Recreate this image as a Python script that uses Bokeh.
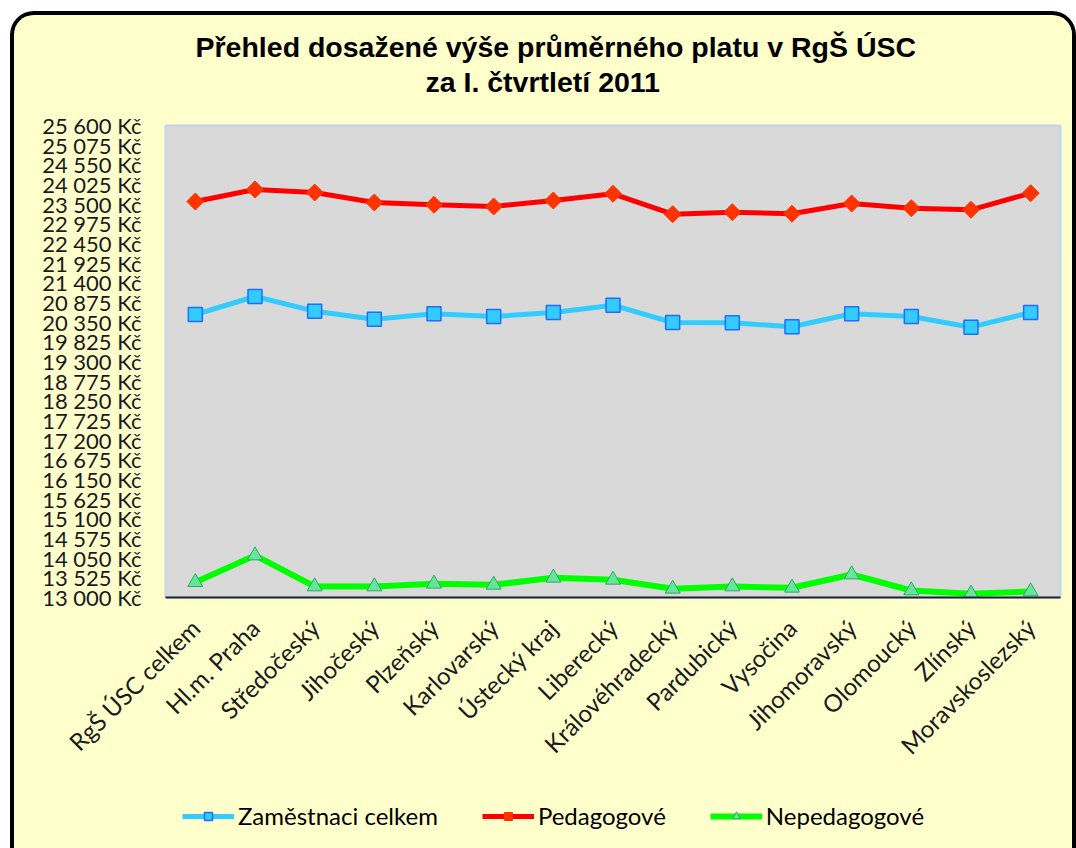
import math
from bokeh.plotting import figure
from bokeh.layouts import column
from bokeh.models import (Legend, LegendItem, FixedTicker, Title,
                          Range1d, ColumnDataSource)
from bokeh.embed import file_html
from bokeh.resources import INLINE

# ---------------- data ----------------
regions = ["RgŠ ÚSC celkem", "Hl.m. Praha", "Středočeský", "Jihočeský", "Plzeňský",
           "Karlovarský", "Ústecký kraj", "Liberecký", "Královéhradecký", "Pardubický",
           "Vysočina", "Jihomoravský", "Olomoucký", "Zlínský", "Moravskoslezský"]
zamestnanci = [20555, 21035, 20643, 20429, 20574, 20501, 20608, 20803,
               20341, 20333, 20226, 20574, 20501, 20216, 20608]
pedagogove = [23571, 23892, 23812, 23545, 23483, 23438, 23598, 23777,
              23232, 23286, 23243, 23518, 23392, 23350, 23793]
nepedagogove = [13408, 14121, 13294, 13294, 13366, 13339, 13526, 13472,
                13232, 13294, 13259, 13614, 13187, 13099, 13160]
series_names = ["Zaměstnaci celkem", "Pedagogové", "Nepedagogové"]
y_ticks = [13000, 13525, 14050, 14575, 15100, 15625, 16150, 16675, 17200,
           17725, 18250, 18775, 19300, 19825, 20350, 20875, 21400, 21925,
           22450, 22975, 23500, 24025, 24550, 25075, 25600]
y_tick_labels = ["13 000 Kč", "13 525 Kč", "14 050 Kč", "14 575 Kč", "15 100 Kč",
                 "15 625 Kč", "16 150 Kč", "16 675 Kč", "17 200 Kč", "17 725 Kč",
                 "18 250 Kč", "18 775 Kč", "19 300 Kč", "19 825 Kč", "20 350 Kč",
                 "20 875 Kč", "21 400 Kč", "21 925 Kč", "22 450 Kč", "22 975 Kč",
                 "23 500 Kč", "24 025 Kč", "24 550 Kč", "25 075 Kč", "25 600 Kč"]
title_line1 = "Přehled dosažené výše průměrného platu v RgŠ ÚSC"
title_line2 = "za I. čtvrtletí 2011"

BG = "#FFFFCC"
FW, FH = 895, 472
ML, MR, MT, MB = 151, 12, 110, 187
CW = ML + FW + MR
LEG_H = 64

colors_line = ["#33CCFF", "#FF0000", "#00FF00"]

src = ColumnDataSource(dict(x=regions, z=zamestnanci, p=pedagogove, n=nepedagogove))

p = figure(x_range=regions, y_range=Range1d(y_ticks[0], y_ticks[-1]),
           frame_width=FW, frame_height=FH, output_backend="svg", toolbar_location=None,
           min_border_left=ML, min_border_right=MR, min_border_top=MT,
           min_border_bottom=MB)
p.background_fill_color = "#D9D9D9"
p.border_fill_color = BG
p.outline_line_color = "#BDD5EE"
p.outline_line_width = 2
p.xgrid.grid_line_color = None
p.ygrid.grid_line_color = None

# titles: p.title is outermost; the first item added to "above" sits next to the frame
p.title.text = title_line1
p.title.align = "left"
p.title.offset = 30
p.title.text_font = "Liberation Sans"
p.title.text_font_size = "28.5px"
p.title.text_font_style = "bold"
p.title.text_color = "#000000"
p.title.standoff = 2
gap = Title(text=" ", text_font_size="1px", standoff=25)
p.add_layout(gap, "above")
t2 = Title(text=title_line2, align="left", offset=260, text_font="Liberation Sans",
           text_font_size="28.5px", text_font_style="bold", text_color="#000000",
           standoff=0)
p.add_layout(t2, "above")

# axes
yax = p.yaxis[0]
yax.ticker = FixedTicker(ticks=y_ticks)
yax.major_label_overrides = {t: l for t, l in zip(y_ticks, y_tick_labels)}
yax.axis_line_color = None
yax.major_tick_line_color = None
yax.minor_tick_line_color = None
yax.major_tick_out = 0
yax.major_tick_in = 0
yax.major_label_standoff = 24
yax.major_label_text_font = "Lato"
yax.major_label_text_font_size = "22px"
yax.major_label_text_color = "#1a1a1a"

xax = p.xaxis[0]
xax.axis_line_color = "#1B2436"
xax.axis_line_width = 2
xax.major_tick_line_color = None
xax.minor_tick_line_color = None
xax.major_tick_out = 0
xax.major_tick_in = 0
xax.major_label_orientation = math.pi / 4
xax.major_label_standoff = 26
xax.major_label_text_font = "Lato"
xax.major_label_text_font_size = "24px"
xax.major_label_text_color = "#1a1a1a"

# series
lz = p.line("x", "z", source=src, line_color=colors_line[0], line_width=5)
sz = p.scatter("x", "z", source=src, marker="square", size=14,
               fill_color="#33CCFF", line_color="#1E6EFF", line_width=1.5)
lp = p.line("x", "p", source=src, line_color=colors_line[1], line_width=5)
sp = p.scatter("x", "p", source=src, marker="square", angle=math.pi / 4, size=12,
               fill_color="#FF3300", line_color="#FF3300", line_width=1)
ln = p.line("x", "n", source=src, line_color=colors_line[2], line_width=6)
sn = p.scatter("x", "n", source=src, marker="triangle", size=15,
               fill_color="#66E69A", line_color="#2FA865", line_width=1)

# legend strip: a small figure under the chart whose (out of view) series feed the legend
q = figure(x_range=p.x_range, y_range=Range1d(0, 1), width=CW, height=LEG_H,
           output_backend="svg", toolbar_location=None,
           x_axis_type=None, y_axis_type=None,
           min_border_left=ML, min_border_right=MR, min_border_top=0,
           min_border_bottom=0)
q.background_fill_color = BG
q.border_fill_color = BG
q.outline_line_color = None
q.xgrid.grid_line_color = None
q.ygrid.grid_line_color = None
qlz = q.line("x", "z", source=src, line_color=colors_line[0], line_width=5)
qsz = q.scatter("x", "z", source=src, marker="square", size=14,
                fill_color="#33CCFF", line_color="#1E6EFF", line_width=1.5)
qlp = q.line("x", "p", source=src, line_color=colors_line[1], line_width=5)
qsp = q.scatter("x", "p", source=src, marker="square", angle=math.pi / 4, size=12,
                fill_color="#FF3300", line_color="#FF3300", line_width=1)
qln = q.line("x", "n", source=src, line_color=colors_line[2], line_width=6)
qsn = q.scatter("x", "n", source=src, marker="triangle", size=15,
                fill_color="#66E69A", line_color="#2FA865", line_width=1)
legend = Legend(items=[LegendItem(label=series_names[0], renderers=[qlz, qsz]),
                       LegendItem(label=series_names[1], renderers=[qlp, qsp]),
                       LegendItem(label=series_names[2], renderers=[qln, qsn])],
                orientation="horizontal", location="top_left",
                glyph_width=52, glyph_height=20, label_standoff=4, spacing=44,
                label_text_font="Lato", label_text_font_size="24px",
                label_text_color="#000000",
                border_line_color=None, background_fill_alpha=0, margin=17, padding=0)
q.add_layout(legend)

layout = column(p, q, spacing=0, margin=(11, 0, 0, 10),
                styles={"border-top": "4px solid #000000",
                        "border-left": "4px solid #000000",
                        "border-right": "4px solid #000000",
                        "border-top-left-radius": "24px",
                        "border-top-right-radius": "24px",
                        "background-color": BG, "overflow": "hidden"})

open("out.html", "w").write(file_html(layout, INLINE))
